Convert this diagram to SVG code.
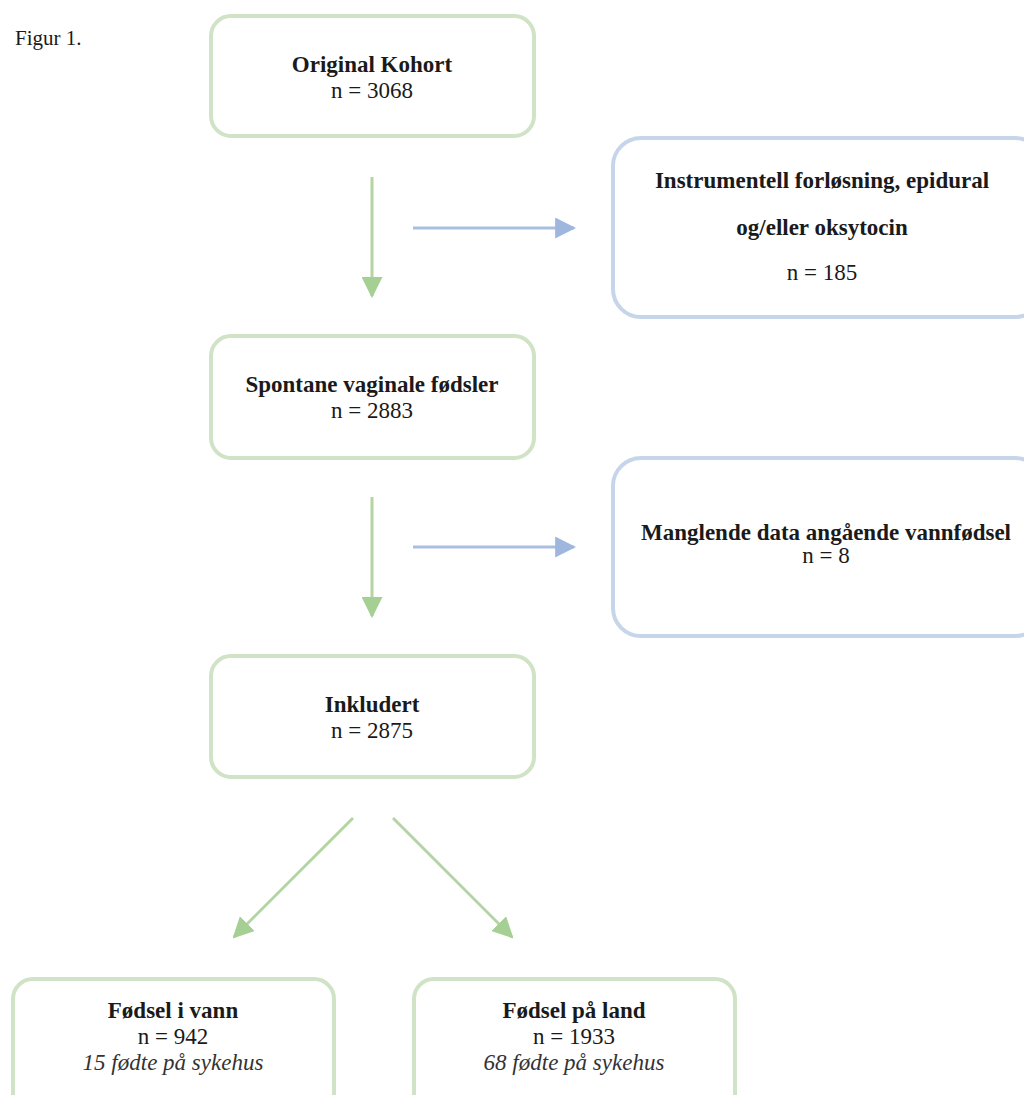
<svg xmlns="http://www.w3.org/2000/svg" width="1024" height="1095" viewBox="0 0 1024 1095">
<defs>
<style>
.g{fill:#fff;stroke:#d0e3c6;stroke-width:4}
.b{fill:#fff;stroke:#c7d5ea;stroke-width:4}
text{font-family:"Liberation Serif","Times New Roman",serif;fill:#1a1a1a;text-anchor:middle}
.h{font-weight:bold;font-size:23px}
.n{font-size:23px}
.i{font-size:23px;font-style:italic;fill:#333}
.ga{stroke:#b3d5a3;stroke-width:3;fill:none}
.ba{stroke:#a9bfe2;stroke-width:3;fill:none}
</style>
<marker id="mg" viewBox="0 0 10 10" refX="9" refY="5" markerWidth="7" markerHeight="7" markerUnits="strokeWidth" orient="auto"><path d="M0,0 L10,5 L0,10 z" fill="#a5cf93"/></marker>
<marker id="mb" viewBox="0 0 10 10" refX="9" refY="5" markerWidth="7" markerHeight="7" markerUnits="strokeWidth" orient="auto"><path d="M0,0 L10,5 L0,10 z" fill="#9fb7df"/></marker>
</defs>
<rect width="1024" height="1095" fill="#fff"/>
<text x="15" y="45" style="text-anchor:start;font-size:21px">Figur 1.</text>
<g id="n1"><rect class="g" x="211" y="16" width="323" height="120" rx="20"/><text class="h" x="372" y="72">Original Kohort</text><text class="n" x="372" y="98">n = 3068</text></g>
<g id="n2"><rect class="b" x="613" y="138" width="430" height="179" rx="28"/><text class="h" x="822" y="188">Instrumentell forløsning, epidural</text><text class="h" x="822" y="235">og/eller oksytocin</text><text class="n" x="822" y="280">n = 185</text></g>
<g id="n3"><rect class="g" x="211" y="336" width="323" height="122" rx="20"/><text class="h" x="372" y="392">Spontane vaginale fødsler</text><text class="n" x="372" y="418">n = 2883</text></g>
<g id="n4"><rect class="b" x="613" y="458" width="430" height="178" rx="28"/><text class="h" x="826" y="540">Manglende data angående vannfødsel</text><text class="n" x="826" y="563">n = 8</text></g>
<g id="n5"><rect class="g" x="211" y="656" width="323" height="121" rx="20"/><text class="h" x="372" y="712">Inkludert</text><text class="n" x="372" y="738">n = 2875</text></g>
<g id="n6"><rect class="g" x="13" y="979" width="321" height="140" rx="20"/><text class="h" x="173" y="1018">Fødsel i vann</text><text class="n" x="173" y="1044">n = 942</text><text class="i" x="173" y="1070">15 fødte på sykehus</text></g>
<g id="n7"><rect class="g" x="414" y="979" width="321" height="140" rx="20"/><text class="h" x="574" y="1018">Fødsel på land</text><text class="n" x="574" y="1044">n = 1933</text><text class="i" x="574" y="1070">68 fødte på sykehus</text></g>
<g id="connectors">
<line class="ga" x1="372" y1="177" x2="372" y2="296" marker-end="url(#mg)"/>
<line class="ba" x1="413" y1="228" x2="574" y2="228" marker-end="url(#mb)"/>
<line class="ga" x1="372" y1="497" x2="372" y2="616" marker-end="url(#mg)"/>
<line class="ba" x1="413" y1="547" x2="574" y2="547" marker-end="url(#mb)"/>
<line class="ga" x1="353" y1="818" x2="234" y2="937" marker-end="url(#mg)"/>
<line class="ga" x1="393" y1="818" x2="512" y2="937" marker-end="url(#mg)"/>
</g>
</svg>
